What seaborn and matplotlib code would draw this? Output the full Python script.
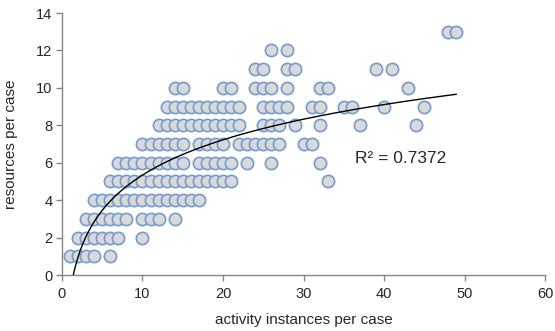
import numpy as np
import pandas as pd
import matplotlib.pyplot as plt
import seaborn as sns

# activity instances per case, grouped by resources per case
res_1 = [1, 2, 3, 4, 6]
res_2 = [2, 3, 4, 5, 6, 7, 10]
res_3 = [3, 4, 5, 6, 7, 8, 10, 11, 12, 14]
res_4 = list(range(4, 18))
res_5 = list(range(6, 22)) + [33]
res_6 = list(range(7, 16)) + [17, 18, 19, 20, 21, 23, 26, 32]
res_7 = list(range(10, 16)) + [17, 18, 19, 20, 22, 23, 24, 25, 26, 27, 30, 31]
res_8 = list(range(12, 23)) + [25, 26, 27, 29, 32, 37, 44]
res_9 = list(range(13, 23)) + [25, 26, 27, 28, 31, 32, 35, 36, 40, 45]
res_10 = [14, 15, 20, 21, 24, 25, 26, 28, 32, 33, 43]
res_11 = [24, 25, 28, 29, 39, 41]
res_12 = [26, 28]
res_13 = [48, 49]

rows = [res_1, res_2, res_3, res_4, res_5, res_6, res_7,
        res_8, res_9, res_10, res_11, res_12, res_13]
activities = [x for r in rows for x in r]
resources = [i + 1 for i, r in enumerate(rows) for _ in r]

# logarithmic trendline y = a*ln(x) + b
trend_a = 2.717
trend_b = -0.914
r_squared = 0.7372

df = pd.DataFrame({"activity": activities, "resources": resources})

sns.set_theme(style="white")
plt.rcParams["font.family"] = ["Liberation Sans", "DejaVu Sans"]

fig = plt.figure(figsize=(5.55, 3.31), dpi=100)
ax = fig.add_axes([0.1117, 0.169, 0.8703, 0.7917])

sns.scatterplot(data=df, x="activity", y="resources", ax=ax,
                s=78, color="#d9d9d9", edgecolor="#739bd0", linewidth=1.2,
                zorder=3, clip_on=False)

tx = np.linspace(min(activities), max(activities), 300)
ax.plot(tx, trend_a * np.log(tx) + trend_b, color="black", lw=1.0, zorder=4)

ax.text(36.4, 6.25, f"R\u00b2 = {r_squared}", fontsize=12.5, va="center",
        ha="left", color="#262626")

ax.set_xlim(0, 60)
ax.set_ylim(0, 14)
ax.set_xticks(range(0, 61, 10))
ax.set_yticks(range(0, 15, 2))
ax.set_xlabel("activity instances per case", fontsize=11, color="#262626", labelpad=9)
ax.set_ylabel("resources per case", fontsize=11, color="#262626", labelpad=13)
ax.tick_params(axis="both", labelsize=10.5, colors="#262626", length=4,
               width=1, direction="out", color="#868686")
ax.tick_params(axis="x", pad=4.5)
ax.tick_params(axis="y", pad=3)
ax.tick_params(left=True, bottom=True)
for side in ["top", "right"]:
    ax.spines[side].set_visible(False)
for side in ["left", "bottom"]:
    ax.spines[side].set_color("#868686")
    ax.spines[side].set_linewidth(1.0)

fig.savefig("out.png", dpi=100)
